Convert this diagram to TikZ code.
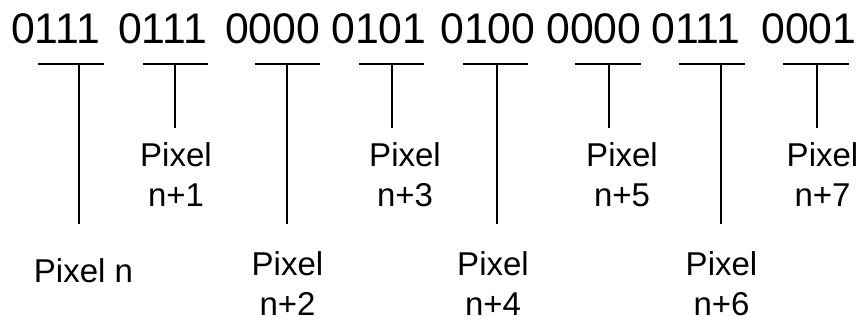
\documentclass[tikz,border=0pt]{standalone}
\usepackage{fontspec}
\setmainfont{Liberation Sans}
\begin{document}
\begin{tikzpicture}[x=1pt,y=-1pt,
  bits/.style={anchor=base west,inner sep=0pt,font=\fontsize{42.8}{43}\selectfont},
  lbl/.style={anchor=base,inner sep=0pt,align=center,font=\fontsize{33}{40}\selectfont},
  wire/.style={line width=2pt,black}]
\useasboundingbox (0,0) rectangle (865,323);
% nibbles
\node[bits] (n1) at (11,44) {0111};
\node[bits] (n2) at (118,44) {0111};
\node[bits] (n3) at (225,44) {0000};
\node[bits] (n4) at (331,44) {0101};
\node[bits] (n5) at (440,44) {0100};
\node[bits] (n6) at (546,44) {0000};
\node[bits] (n7) at (651,44) {0111};
\node[bits] (n8) at (761,44) {0001};
% bars
\coordinate (b1l) at (38,64);  \coordinate (b1r) at (104,64);
\coordinate (b2l) at (143,64); \coordinate (b2r) at (208,64);
\coordinate (b3l) at (255,64); \coordinate (b3r) at (320,64);
\coordinate (b4l) at (359,64); \coordinate (b4r) at (424,64);
\coordinate (b5l) at (463,64); \coordinate (b5r) at (528,64);
\coordinate (b6l) at (575,64); \coordinate (b6r) at (641,64);
\coordinate (b7l) at (679,64); \coordinate (b7r) at (745,64);
\coordinate (b8l) at (783,64); \coordinate (b8r) at (849,64);
% stems
\coordinate (t1) at (79,64);  \coordinate (e1) at (79,224);
\coordinate (t2) at (175,64); \coordinate (e2) at (175,128);
\coordinate (t3) at (287,64); \coordinate (e3) at (287,224);
\coordinate (t4) at (392,64); \coordinate (e4) at (392,128);
\coordinate (t5) at (497,64); \coordinate (e5) at (497,224);
\coordinate (t6) at (609,64); \coordinate (e6) at (609,128);
\coordinate (t7) at (721,64); \coordinate (e7) at (721,224);
\coordinate (t8) at (817,64); \coordinate (e8) at (817,128);
\foreach \i in {1,...,8}{
  \draw[wire] (b\i l) -- (b\i r);
  \draw[wire] (t\i) -- (e\i);
}
% labels (base = baseline of last line)
\node[lbl] (p1) at (83.5,282) {Pixel n};
\node[lbl] (p2) at (176,207) {Pixel\\n+1};
\node[lbl] (p3) at (287.5,316) {Pixel\\n+2};
\node[lbl] (p4) at (405,207) {Pixel\\n+3};
\node[lbl] (p5) at (493,316) {Pixel\\n+4};
\node[lbl] (p6) at (622,207) {Pixel\\n+5};
\node[lbl] (p7) at (721.5,316) {Pixel\\n+6};
\node[lbl] (p8) at (822.5,207) {Pixel\\n+7};
\end{tikzpicture}
\end{document}
